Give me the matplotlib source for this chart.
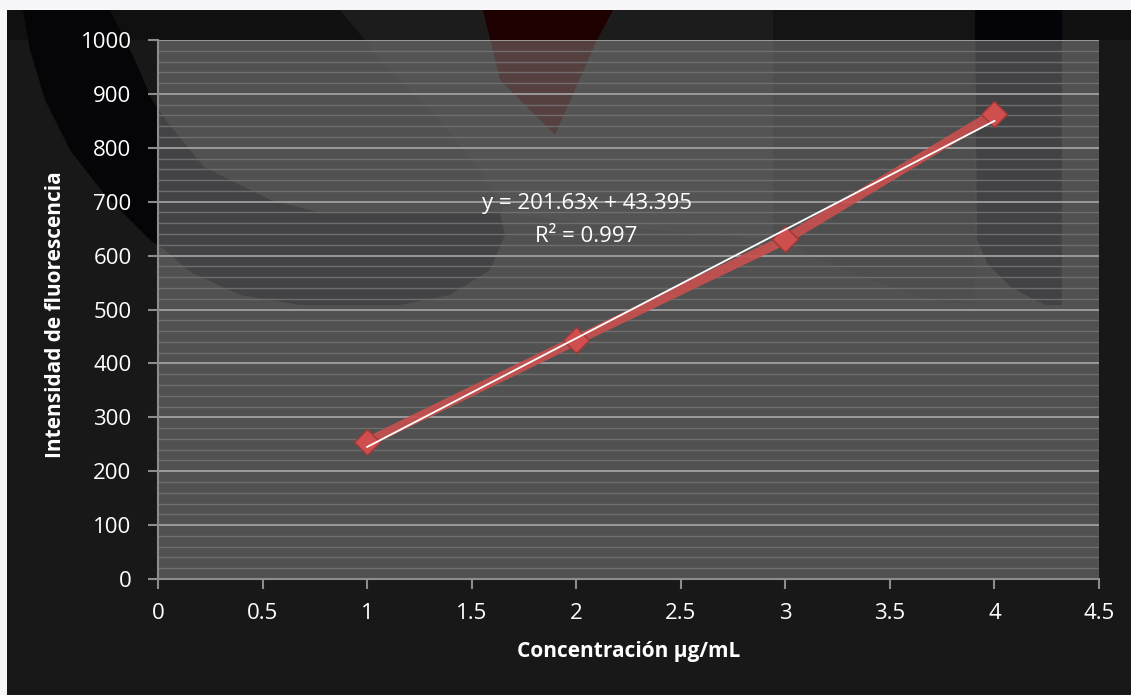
import numpy as np
import matplotlib
matplotlib.use("Agg")
import matplotlib.pyplot as plt
from matplotlib.patches import Polygon, Rectangle
from matplotlib.transforms import Affine2D
from matplotlib.ticker import MultipleLocator, FuncFormatter

# data
conc = [1, 2, 3, 4]
fluor = [253.6, 442.9, 629.9, 863.4]
eq_lines = ["y = 201.63x + 43.395", "R\u00b2 = 0.997"]
x_title = "Concentración µg/mL"
y_title = "Intensidad de fluorescencia"

W, H = 1131, 695
plt.rcParams["font.family"] = ["Open Sans", "DejaVu Sans"]

fig = plt.figure(figsize=(W / 100, H / 100), dpi=100)
fig.patch.set_facecolor("#f7f7f9")

# pixel coords (y down) -> figure
px = Affine2D().scale(1 / W, -1 / H).translate(0, 1) + fig.transFigure


def bg(shape):
    shape.set_transform(px)
    shape.set_zorder(-5)
    fig.add_artist(shape)


# dark slide background with a faded picture behind the chart
bg(Rectangle((7, 10), W - 7, H - 10, facecolor="#181818", lw=0))
bg(Rectangle((7, 10), W - 7, 30, facecolor="#101010", lw=0))
bg(Polygon([(340, 10), (773, 10), (773, 240), (600, 225), (505, 213),
            (480, 170), (440, 120), (390, 70)], facecolor="#1c1c1c", lw=0))
bg(Polygon([(773, 10), (975, 10), (975, 305), (930, 300), (870, 280),
            (820, 260), (773, 235)], facecolor="#141414", lw=0))
# dark ring + bowl
bg(Polygon([(23, 10), (110, 10), (135, 60), (152, 100), (168, 123),
            (204, 167), (271, 200), (321, 213), (500, 213), (505, 235),
            (490, 270), (450, 295), (400, 305), (300, 305), (240, 295),
            (190, 272), (165, 250), (150, 240), (105, 195), (70, 150),
            (45, 100), (30, 50)], facecolor="#050508", lw=0))
# red wedge at the top
bg(Polygon([(483, 10), (613, 10), (597, 40), (555, 135), (500, 80)],
           facecolor="#1e0000", lw=0))
# dark block on the right
bg(Polygon([(975, 10), (1062, 10), (1062, 305), (1045, 305), (1012, 288),
            (988, 265), (977, 240)], facecolor="#030308", lw=0))

ax = fig.add_axes([158 / W, 1 - 579 / H, 941 / W, 539 / H])
ax.set_facecolor((1, 1, 1, 0.25))

ax.set_xlim(0, 4.5)
ax.set_ylim(0, 1000)
ax.xaxis.set_major_locator(MultipleLocator(0.5))
ax.yaxis.set_major_locator(MultipleLocator(100))
ax.yaxis.set_minor_locator(MultipleLocator(20))
ax.xaxis.set_major_formatter(FuncFormatter(lambda v, p: "%g" % v))

ax.grid(which="major", axis="y", color="#a0a0a0", lw=1.3, zorder=0)
ax.grid(which="minor", axis="y", color="#6e6e6e", lw=1.0, zorder=0)
ax.set_axisbelow(True)

for s in ["top", "right"]:
    ax.spines[s].set_visible(False)
for s in ["left", "bottom"]:
    ax.spines[s].set_color("#8c8c8c")
    ax.spines[s].set_linewidth(1.5)

ax.tick_params(which="major", direction="out", length=7, width=1.5,
               color="#8c8c8c", labelcolor="white", labelsize=16)
ax.tick_params(axis="y", pad=12)
ax.tick_params(axis="x", pad=10)
ax.tick_params(which="minor", length=0)

# series
ax.plot(conc, fluor, color="#c9504e", lw=7, alpha=0.9,
        solid_capstyle="butt", zorder=3)
ax.plot(conc, fluor, ls="none", marker="D", ms=13,
        mfc="#cf4e4e", mec="#9c3836", mew=1, zorder=4)

# linear trend line
m, b = np.polyfit(conc, fluor, 1)
xs = np.array([conc[0], conc[-1]])
ax.plot(xs, m * xs + b, color="white", lw=1.3, zorder=5)

ax.text(2.05, 686, eq_lines[0], color="white", fontsize=16,
        ha="center", va="baseline", zorder=6)
ax.text(2.05, 625, eq_lines[1], color="white", fontsize=16,
        ha="center", va="baseline", zorder=6)

ax.set_xlabel(x_title, color="white", fontsize=15, fontweight="bold")
ax.set_ylabel(y_title, color="white", fontsize=15, fontweight="bold")
ax.xaxis.set_label_coords(0.5, -0.115)
ax.yaxis.set_label_coords(-0.098, 0.49)

fig.savefig("out.png", dpi=100, facecolor=fig.get_facecolor())
